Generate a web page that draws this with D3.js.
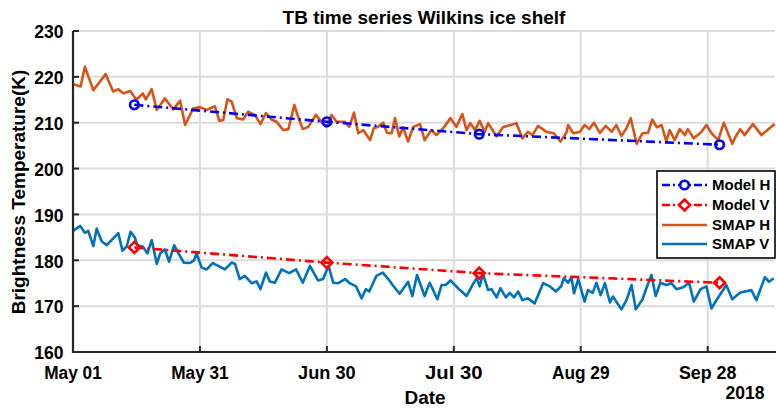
<!DOCTYPE html>
<html><head><meta charset="utf-8">
<script src="https://cdn.jsdelivr.net/npm/d3@7/dist/d3.min.js"></script>
<style>
body{margin:0;background:#fff;}
text{font-family:"Liberation Sans",Arial,sans-serif;font-weight:bold;fill:#000;}
</style></head><body>
<svg id="c" width="776" height="412"></svg>
<script>
// ---- data (day offsets from 2018-05-01, values in K) ----
const startDate = new Date(2018, 4, 1);
const xTickDays = [0, 30, 60, 90, 120, 150];
const xTickLabels = ["May 01", "May 31", "Jun 30", "Jul 30", "Aug 29", "Sep 28"];
const yTicks = [160, 170, 180, 190, 200, 210, 220, 230];

const modelDays = [14.5, 60.0, 96.0, 152.8];
const modelH = [213.9, 210.2, 207.5, 205.2];
const modelV = [182.8, 179.5, 177.2, 175.1];

const smapHDays = [0,1.8,2.8,4.8,6.4,7.7,9.5,10.7,11.9,13.5,15.0,16.5,17.2,18.6,19.8,21.7,23.7,25.3,26.5,28.4,30.0,31.6,33.5,34.6,35.5,36.5,37.5,38.7,40.2,41.4,43.0,44.3,45.6,46.9,48.1,49.7,50.9,52.3,53.2,54.3,55.6,57.4,58.7,59.9,61.1,62.3,64.3,65.3,66.4,67.4,68.6,70.2,71.1,72.1,73.3,74.2,75.3,76.1,77.1,78.0,79.2,80.4,82.0,83.1,84.7,85.9,87.5,89.2,90.6,92.0,93.0,93.9,95.0,96.1,97.3,98.1,100.1,101.6,104.8,106.2,107.5,108.6,109.9,111.9,113.6,115.2,116.6,117.0,118.2,119.8,120.9,122.0,123.1,124.5,125.9,127.3,128.4,129.6,130.8,131.8,133.2,134.6,135.9,136.9,138.0,139.1,140.2,141.0,142.2,143.4,144.6,145.3,146.7,148.5,149.7,150.9,152.5,153.8,155.8,156.6,157.7,158.7,160.7,162.7,164.6,165.8];
const smapH = [218.4,217.9,222.2,217.1,219.0,220.6,216.8,217.3,216.4,216.9,215.0,216.4,215.1,217.3,212.8,215.3,212.9,214.8,209.5,213.1,213.4,212.8,213.6,210.4,210.6,215.1,214.6,211.0,210.7,212.4,211.7,209.7,212.1,210.7,210.2,208.4,208.6,213.9,211.3,208.6,209.1,211.7,210.2,209.1,211.7,210.2,210.2,209.1,212.2,207.7,208.4,206.2,208.8,209.1,210.0,207.8,207.7,211.0,207.0,209.0,205.9,209.1,209.7,206.2,208.4,207.3,208.8,211.0,209.1,211.9,208.4,209.9,208.4,210.4,208.0,209.9,207.0,209.0,209.9,206.6,208.0,207.3,209.3,208.0,207.7,205.9,207.8,209.5,207.7,208.0,209.5,208.6,210.0,207.8,209.3,208.0,209.5,207.1,208.8,211.0,205.4,207.7,207.8,210.7,209.0,209.5,205.9,208.4,206.2,208.6,207.3,208.6,206.6,208.0,209.5,207.7,206.2,210.0,205.4,207.0,208.6,207.3,209.7,207.3,208.8,209.7];

const smapVDays = [0,1.7,2.8,3.6,4.8,5.6,6.8,8.0,9.1,10.7,11.7,12.7,13.6,14.6,15.2,16.5,17.6,18.6,19.8,20.6,21.7,22.7,23.9,25.1,26.2,27.6,28.6,29.2,30.4,31.6,33.0,34.3,35.9,37.5,38.3,39.4,40.6,42.2,43.4,44.3,45.6,46.5,47.7,49.3,51.1,52.7,54.3,56.0,57.9,59.1,60.4,61.5,62.7,64.3,65.4,66.9,68.2,69.2,70.0,71.7,73.2,74.5,75.7,77.2,79.2,80.2,81.3,83.1,84.3,86.1,87.1,88.1,89.2,91.0,93.0,94.4,95.4,96.1,96.9,98.1,98.9,100.1,101.0,102.3,103.2,104.2,105.2,106.2,107.5,109.1,111.1,112.7,114.1,115.4,116.0,117.0,117.8,118.4,119.4,120.9,121.7,122.8,123.7,124.7,125.7,126.9,127.6,129.6,130.8,132.0,133.0,134.6,135.5,136.7,137.7,138.8,140.2,141.4,142.6,144.2,145.6,146.7,148.3,149.7,150.9,152.2,154.4,155.8,157.6,160.3,161.5,163.5,164.5,165.6];
const smapV = [186.4,187.5,186.0,186.4,183.1,186.9,184.1,183.3,184.4,185.9,182.1,183.0,186.2,185.0,183.3,183.0,181.5,184.4,179.2,181.5,182.4,179.7,183.3,181.2,179.5,179.4,180.0,181.5,178.4,178.0,179.4,178.8,178.0,179.5,179.2,175.9,176.6,175.0,175.4,173.7,177.3,175.4,175.1,178.0,177.2,178.0,175.1,178.8,175.6,175.9,178.8,175.1,175.0,175.9,175.0,174.3,171.7,173.7,173.2,176.6,177.3,175.9,174.4,172.7,175.3,172.2,176.8,172.2,175.1,171.5,174.6,174.6,175.6,173.9,172.2,174.6,176.1,174.3,177.0,173.5,173.7,171.9,173.9,171.9,172.9,171.9,173.2,171.3,171.7,170.6,175.0,174.3,173.2,174.4,176.1,175.1,176.3,172.8,175.9,171.0,173.5,172.9,175.1,172.4,175.0,170.8,172.1,169.3,171.3,174.6,169.3,171.5,173.9,176.8,172.2,175.1,174.6,175.0,173.7,174.1,175.1,171.0,173.7,174.3,169.5,171.5,174.6,171.5,172.9,173.5,171.3,176.3,175.3,176.1];

const legendLabels = ["Model H", "Model V", "SMAP H", "SMAP V"];

// ---- layout ----
const M = {left: 73, top: 31, right: 775, bottom: 352};
const toDate = d => new Date(startDate.getTime() + d * 86400000);
const x = d3.scaleTime().domain([startDate, toDate(165.9)]).range([M.left, M.right]);
const y = d3.scaleLinear().domain([160, 230]).range([M.bottom, M.top]);

const svg = d3.select("#c");
const C = {H: "#D95319", V: "#0072BD", mH: "#0000FF", mV: "#FF0000"};

svg.append("defs").append("clipPath").attr("id", "clip")
  .append("rect").attr("x", M.left).attr("y", M.top - 3).attr("width", M.right - M.left).attr("height", M.bottom - M.top + 3);

// grid
const g = svg.append("g");
g.selectAll(".gx").data(xTickDays).join("line")
  .attr("x1", d => x(toDate(d))).attr("x2", d => x(toDate(d)))
  .attr("y1", M.top).attr("y2", M.bottom)
  .attr("stroke", "#dcdcdc").attr("stroke-width", 2);
g.selectAll(".gy").data(yTicks).join("line")
  .attr("x1", M.left).attr("x2", M.right)
  .attr("y1", d => y(d)).attr("y2", d => y(d))
  .attr("stroke", "#dcdcdc").attr("stroke-width", 2);

// series
const plot = svg.append("g").attr("clip-path", "url(#clip)");
function series(days, vals) { return days.map((d, i) => [toDate(d), vals[i]]); }
const line = d3.line().x(d => x(d[0])).y(d => y(d[1]));
plot.append("path").datum(series(smapHDays, smapH)).attr("d", line)
  .attr("fill", "none").attr("stroke", C.H).attr("stroke-width", 2.6).attr("stroke-linejoin", "round");
plot.append("path").datum(series(smapVDays, smapV)).attr("d", line)
  .attr("fill", "none").attr("stroke", C.V).attr("stroke-width", 2.6).attr("stroke-linejoin", "round");

const dashDot = "9,4,2,4";
plot.append("path").datum(series(modelDays, modelH)).attr("d", line)
  .attr("fill", "none").attr("stroke", C.mH).attr("stroke-width", 2.6).attr("stroke-dasharray", dashDot);
plot.append("path").datum(series(modelDays, modelV)).attr("d", line)
  .attr("fill", "none").attr("stroke", C.mV).attr("stroke-width", 2.6).attr("stroke-dasharray", dashDot);

const diamond = r => `M0,${-r}L${r},0L0,${r}L${-r},0Z`;
plot.selectAll(".mh").data(series(modelDays, modelH)).join("circle")
  .attr("cx", d => x(d[0])).attr("cy", d => y(d[1])).attr("r", 4.3)
  .attr("fill", "none").attr("stroke", C.mH).attr("stroke-width", 2.6);
plot.selectAll(".mv").data(series(modelDays, modelV)).join("path")
  .attr("transform", d => `translate(${x(d[0])},${y(d[1])})`).attr("d", diamond(5.5))
  .attr("fill", "none").attr("stroke", C.mV).attr("stroke-width", 2.6);

// axes
const ax = svg.append("g");
ax.append("line").attr("x1", M.left).attr("x2", M.left).attr("y1", M.top).attr("y2", M.bottom + 1)
  .attr("stroke", "#262626").attr("stroke-width", 2.2);
ax.append("line").attr("x1", M.left - 1).attr("x2", M.right + 1).attr("y1", M.bottom).attr("y2", M.bottom)
  .attr("stroke", "#262626").attr("stroke-width", 2.2);
ax.selectAll(".ty").data(yTicks).join("line")
  .attr("x1", M.left).attr("x2", M.left + 6).attr("y1", d => y(d)).attr("y2", d => y(d))
  .attr("stroke", "#262626").attr("stroke-width", 2);
ax.selectAll(".tx").data(xTickDays).join("line")
  .attr("x1", d => x(toDate(d))).attr("x2", d => x(toDate(d))).attr("y1", M.bottom).attr("y2", M.bottom - 6)
  .attr("stroke", "#262626").attr("stroke-width", 2);
ax.selectAll(".ly").data(yTicks).join("text")
  .attr("x", M.left - 9.5).attr("y", d => y(d) + 1).attr("dy", "0.36em")
  .attr("text-anchor", "end").attr("font-size", 17.5).text(d => d);
ax.selectAll(".lx").data(xTickDays).join("text")
  .attr("x", d => x(toDate(d))).attr("y", 378.5)
  .attr("text-anchor", "middle").attr("font-size", 17.5).attr("textLength", 57.5).attr("lengthAdjust", "spacingAndGlyphs")
  .text((d, i) => xTickLabels[i]);

svg.append("text").attr("x", 745).attr("y", 399).attr("text-anchor", "middle").attr("font-size", 17.5).text("2018");
svg.append("text").attr("x", 425).attr("y", 404).attr("text-anchor", "middle").attr("font-size", 19).text("Date");
svg.append("text").attr("transform", "translate(25,192) rotate(-90)").attr("text-anchor", "middle").attr("font-size", 19).text("Brightness Temperature(K)");
svg.append("text").attr("x", 424).attr("y", 24).attr("text-anchor", "middle").attr("font-size", 19).text("TB time series Wilkins ice shelf");

// legend
const lg = svg.append("g");
lg.append("rect").attr("x", 657).attr("y", 171).attr("width", 118).attr("height", 87)
  .attr("fill", "#fff").attr("stroke", "#000").attr("stroke-width", 1.6);
const ly = [185, 205, 225, 244];
const lcol = [C.mH, C.mV, C.H, C.V];
legendLabels.forEach((lab, i) => {
  const l = lg.append("line").attr("x1", 662).attr("x2", 707).attr("y1", ly[i]).attr("y2", ly[i])
    .attr("stroke", lcol[i]).attr("stroke-width", 2.6);
  if (i < 2) l.attr("stroke-dasharray", "8,3,2,3");
  if (i === 0) lg.append("circle").attr("cx", 684.5).attr("cy", ly[i]).attr("r", 4.3).attr("fill", "#fff").attr("stroke", lcol[i]).attr("stroke-width", 2.6);
  if (i === 1) lg.append("path").attr("transform", `translate(684.5,${ly[i]})`).attr("d", diamond(5.5)).attr("fill", "#fff").attr("stroke", lcol[i]).attr("stroke-width", 2.6);
  lg.append("text").attr("x", 712).attr("y", ly[i]).attr("dy", "0.36em").attr("font-size", 15).text(lab);
});
</script></body></html>
